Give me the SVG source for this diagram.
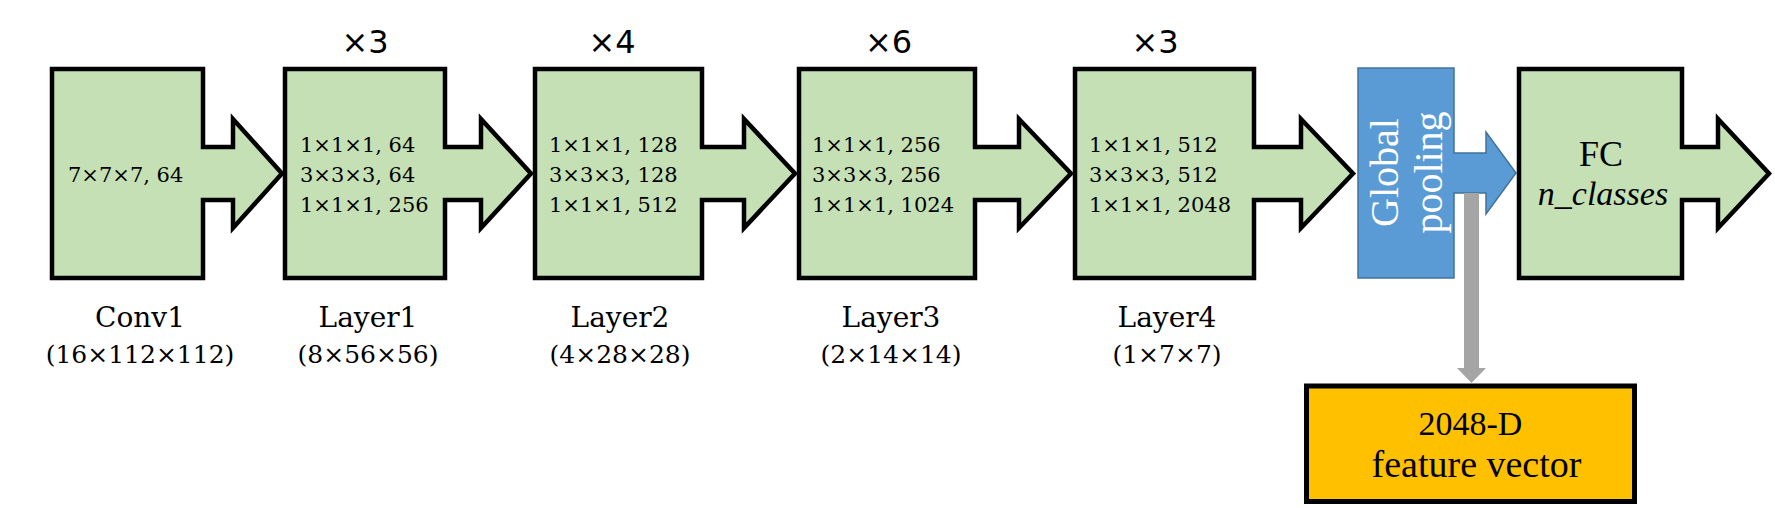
<svg xmlns="http://www.w3.org/2000/svg" width="1775" height="508" viewBox="0 0 1775 508">
<style>
.blk{fill:#C5E0B4;stroke:#000;stroke-width:4.5;stroke-linejoin:miter;stroke-miterlimit:10}
.pool{fill:#5B9BD5;stroke:#41719C;stroke-width:1.5}
.feat{fill:#FFC000;stroke:#000;stroke-width:5}
.gray{fill:#A5A5A5}
.spec{font-family:"DejaVu Serif",serif;font-size:21px;fill:#000}
.rep{font-family:"DejaVu Sans",sans-serif;font-size:32px;fill:#000;text-anchor:middle}
.name{font-family:"DejaVu Serif",serif;font-size:28px;fill:#000;text-anchor:middle}
.dim{font-family:"DejaVu Serif",serif;font-size:25px;fill:#000;text-anchor:middle}
.ser{font-family:"Liberation Serif",serif;fill:#000;text-anchor:middle}
.wht{font-family:"Liberation Serif",serif;font-size:40px;fill:#fff;text-anchor:middle}
</style>
<g id="conv1">
<path class="blk" d="M52,69 H203 V147 H233 V119 L282,173.5 L233,228 V200 H203 V278 H52 Z"/>
<text class="spec" x="68" y="182">7×7×7, 64</text>
<text class="name" x="140" y="327">Conv1</text>
<text class="dim" x="140" y="363">(16×112×112)</text>
</g>
<g id="layer1">
<path class="blk" d="M285,69 H445 V147 H481 V119 L531,173.5 L481,228 V200 H445 V278 H285 Z"/>
<text class="rep" x="365" y="53">×3</text>
<text class="spec" x="300" y="152">1×1×1, 64</text>
<text class="spec" x="300" y="182">3×3×3, 64</text>
<text class="spec" x="300" y="211.5">1×1×1, 256</text>
<text class="name" x="368" y="327">Layer1</text>
<text class="dim" x="368" y="363">(8×56×56)</text>
</g>
<g id="layer2">
<path class="blk" d="M535,69 H702 V147 H744 V119 L795,173.5 L744,228 V200 H702 V278 H535 Z"/>
<text class="rep" x="612" y="53">×4</text>
<text class="spec" x="549" y="152">1×1×1, 128</text>
<text class="spec" x="549" y="182">3×3×3, 128</text>
<text class="spec" x="549" y="211.5">1×1×1, 512</text>
<text class="name" x="620" y="327">Layer2</text>
<text class="dim" x="620" y="363">(4×28×28)</text>
</g>
<g id="layer3">
<path class="blk" d="M799,69 H975 V147 H1019 V119 L1071,173.5 L1019,228 V200 H975 V278 H799 Z"/>
<text class="rep" x="888.5" y="53">×6</text>
<text class="spec" x="812" y="152">1×1×1, 256</text>
<text class="spec" x="812" y="182">3×3×3, 256</text>
<text class="spec" x="812" y="211.5">1×1×1, 1024</text>
<text class="name" x="891" y="327">Layer3</text>
<text class="dim" x="891" y="363">(2×14×14)</text>
</g>
<g id="layer4">
<path class="blk" d="M1075,69 H1254 V147 H1301 V119 L1353,173.5 L1301,228 V200 H1254 V278 H1075 Z"/>
<text class="rep" x="1155" y="53">×3</text>
<text class="spec" x="1089" y="152">1×1×1, 512</text>
<text class="spec" x="1089" y="182">3×3×3, 512</text>
<text class="spec" x="1089" y="211.5">1×1×1, 2048</text>
<text class="name" x="1167" y="327">Layer4</text>
<text class="dim" x="1167" y="363">(1×7×7)</text>
</g>
<g id="global-pooling">
<path class="pool" d="M1358,68 H1454 V153 H1486 V132 L1516,173 L1486,214 V193 H1454 V278 H1358 Z"/>
<text class="wht" transform="translate(1398,172.5) rotate(-90)">Global</text>
<text class="wht" transform="translate(1442,172.5) rotate(-90)">pooling</text>
</g>
<g id="fc">
<path class="blk" d="M1519,69 H1682 V147 H1718 V119 L1769,173.5 L1718,228 V200 H1682 V278 H1519 Z"/>
<text class="ser" x="1601" y="166" font-size="36">FC</text>
<text class="ser" x="1603" y="205" font-size="34" font-style="italic">n_classes</text>
</g>
<g id="connectors">
<path class="gray" d="M1464,193 H1479 V368 H1486 L1471.5,383 L1457,368 H1464 Z"/>
</g>
<g id="feature-vector">
<rect class="feat" x="1306.5" y="386" width="328" height="115.5"/>
<text class="ser" x="1470.5" y="435" font-size="34">2048-D</text>
<text class="ser" x="1476.5" y="477" font-size="38">feature vector</text>
</g>
</svg>
